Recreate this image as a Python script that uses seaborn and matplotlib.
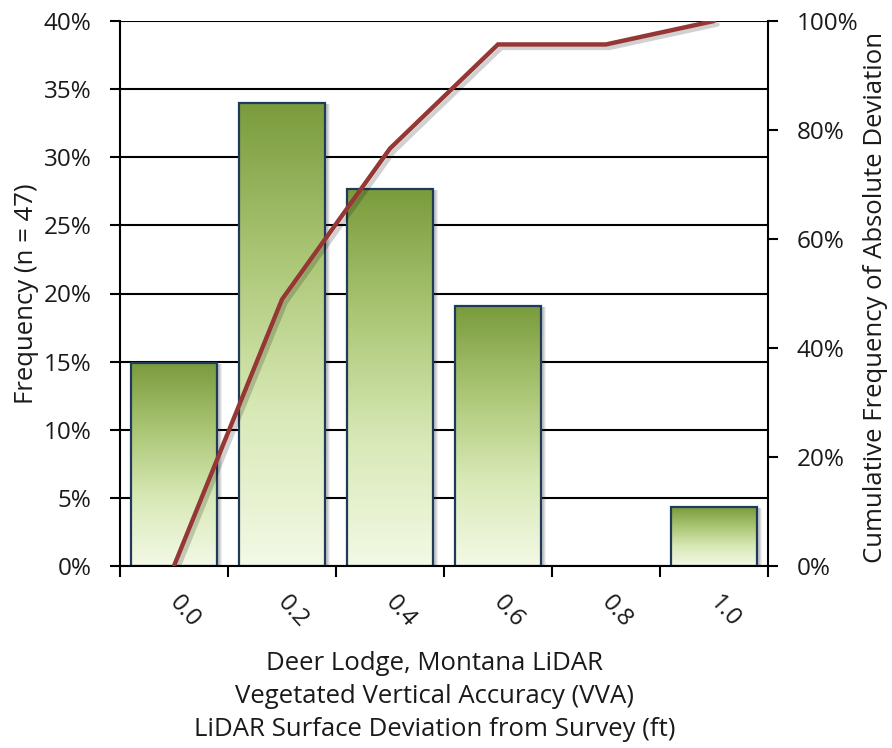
import numpy as np
import pandas as pd
import matplotlib
matplotlib.use("Agg")
import matplotlib.pyplot as plt
import seaborn as sns
import matplotlib.patheffects as pe
import matplotlib.transforms as mtransforms
from matplotlib.colors import LinearSegmentedColormap
from matplotlib.patches import Rectangle
from matplotlib.ticker import FuncFormatter

# ---- data ----
categories = ["0.0", "0.2", "0.4", "0.6", "0.8", "1.0"]
frequency_pct = [14.9, 34.0, 27.7, 19.1, 0.0, 4.3]
cumulative_pct = [0.0, 48.9, 76.6, 95.7, 95.7, 100.0]
left_ticks = [0, 5, 10, 15, 20, 25, 30, 35, 40]
right_ticks = [0, 20, 40, 60, 80, 100]
x_title = ("Deer Lodge, Montana LiDAR\n"
           "Vegetated Vertical Accuracy (VVA)\n"
           "LiDAR Surface Deviation from Survey (ft)")
left_title = "Frequency (n = 47)"
right_title = "Cumulative Frequency of Absolute Deviation"

sns.set_theme(style="white")
plt.rcParams["font.family"] = ["Open Sans", "DejaVu Sans"]
TXT = "#1a1a1a"
FS = 17.5
FT = 18.5

fig = plt.figure(figsize=(8.92, 7.48), dpi=100)
ax = fig.add_axes([120 / 892, 1 - 566 / 748, (768 - 120) / 892, (566 - 21) / 748])

df = pd.DataFrame({"bin": categories, "freq": frequency_pct})
sns.barplot(data=df, x="bin", y="freq", ax=ax, width=0.8, color="#9ab85c",
            saturation=1, edgecolor="#1f3a5a", linewidth=1.6, zorder=2)

cmap = LinearSegmentedColormap.from_list(
    "g", ["#f3f9e6", "#d8e9b6", "#abc675", "#7a9b3c"])
grad = np.linspace(0, 1, 256).reshape(-1, 1)
for p in list(ax.patches):
    x0, y0 = p.get_x(), p.get_y()
    w, h = p.get_width(), p.get_height()
    if h <= 0:
        p.set_visible(False)
        continue
    for k, a in [(5, 0.08), (4, 0.10), (3, 0.12)]:
        shadow = Rectangle((x0, y0), w, h, facecolor="#333333", alpha=a,
                           edgecolor="none", zorder=1.5,
                           transform=ax.transData + mtransforms.ScaledTranslation(
                               k / 100, -1 / 100, fig.dpi_scale_trans))
        ax.add_patch(shadow)
    im = ax.imshow(grad, cmap=cmap, origin="lower", aspect="auto",
                   extent=[x0, x0 + w, y0, y0 + h], zorder=1.8,
                   interpolation="bilinear")
    im.set_clip_path(p)
    p.set_facecolor("none")

ax.set_xlim(-0.5, len(categories) - 0.5)
ax.set_ylim(0, 40)
ax.set_yticks(left_ticks)
ax.yaxis.set_major_formatter(FuncFormatter(lambda v, _: f"{v:.0f}%"))
ax.yaxis.grid(True, color="black", linewidth=1.5)
ax.set_axisbelow(True)

# major ticks at bin boundaries, labels at bin centres
ax.set_xticks(np.arange(-0.5, len(categories), 1.0), [""] * (len(categories) + 1))
ax.set_xticks(np.arange(len(categories)), categories, minor=True)
ax.tick_params(axis="x", which="major", direction="out", length=8, width=1.5,
               color="black", bottom=True)
ax.tick_params(axis="x", which="minor", length=0, pad=33, labelsize=FS,
               labelcolor=TXT)
ax.tick_params(axis="y", direction="out", length=7.5, width=1.5, color="black",
               left=True, labelsize=FS, labelcolor=TXT, pad=13)
off = mtransforms.ScaledTranslation(11 / 100, 0, fig.dpi_scale_trans)
for lbl in ax.get_xticklabels(minor=True):
    lbl.set_rotation(-48)
    lbl.set_ha("center")
    lbl.set_va("center")
    lbl.set_rotation_mode("anchor")
    lbl.set_transform(lbl.get_transform() + off)

for s in ["left", "bottom"]:
    ax.spines[s].set_color("black")
    ax.spines[s].set_linewidth(1.5)
ax.spines["top"].set_visible(False)
ax.spines["right"].set_visible(False)

ax.set_xlabel(x_title, fontsize=FT, color=TXT, linespacing=1.42, labelpad=13)
ax.xaxis.label.set_x(0.485)
ax.set_ylabel(left_title, fontsize=FT, color=TXT, labelpad=3)

# cumulative line on secondary axis
ax2 = ax.twinx()
sns.lineplot(x=np.arange(len(categories)), y=cumulative_pct, ax=ax2,
             color="#953735", linewidth=3.2, solid_joinstyle="miter",
             path_effects=[pe.SimpleLineShadow(offset=(2.5, -2.5),
                                               shadow_color="#000000",
                                               alpha=0.18),
                           pe.Normal()])
ax2.set_ylim(0, 100)
ax2.set_yticks(right_ticks)
ax2.yaxis.set_major_formatter(FuncFormatter(lambda v, _: f"{v:.0f}%"))
ax2.tick_params(axis="y", direction="out", length=7.5, width=1.5, color="black",
                right=True, labelsize=FS, labelcolor=TXT, pad=13)
for s in ["left", "bottom", "top"]:
    ax2.spines[s].set_visible(False)
ax2.spines["right"].set_color("black")
ax2.spines["right"].set_linewidth(1.5)
ax2.set_ylabel(right_title, fontsize=FT, color=TXT)
ax2.yaxis.set_label_coords(1.146, 0.492)
ax2.grid(False)

fig.savefig("out.png", dpi=100)
